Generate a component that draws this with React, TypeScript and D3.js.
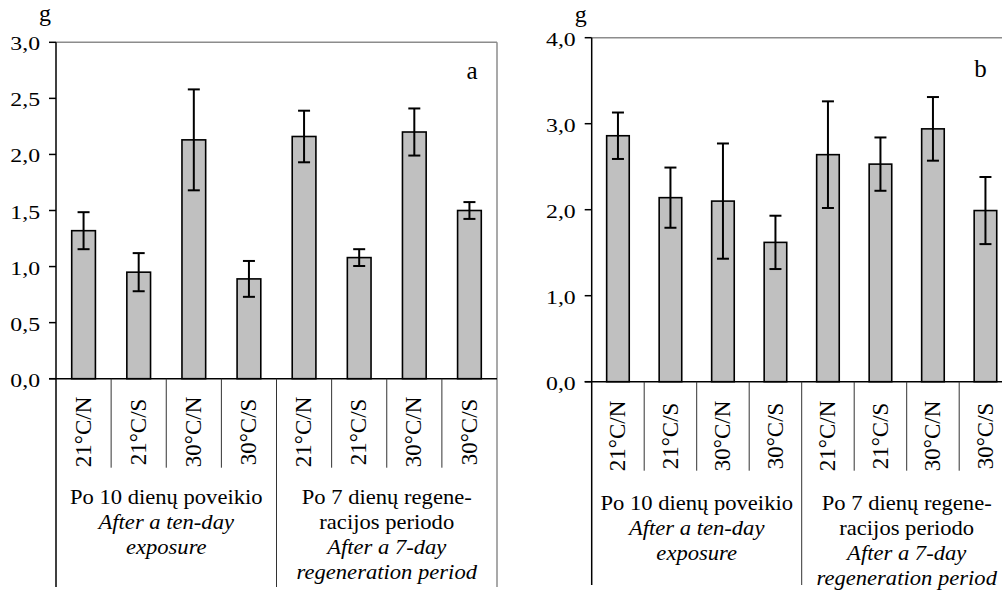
import React from 'react';
import * as d3 from 'd3';

// categories and values
const categories = ['21°C/N', '21°C/S', '30°C/N', '30°C/S', '21°C/N', '21°C/S', '30°C/N', '30°C/S'];
const valuesA = [1.32, 0.95, 2.13, 0.89, 2.16, 1.08, 2.2, 1.5];
const errorsA = [0.165, 0.17, 0.45, 0.16, 0.23, 0.075, 0.21, 0.075];
const valuesB = [2.86, 2.14, 2.1, 1.62, 2.64, 2.53, 2.94, 1.99];
const errorsB = [0.27, 0.35, 0.67, 0.31, 0.62, 0.31, 0.37, 0.39];
const ticksA = [0, 0.5, 1, 1.5, 2, 2.5, 3];
const ticksB = [0, 1, 2, 3, 4];
const group1 = [
    { text: 'Po 10 dienų poveikio', italic: false },
    { text: 'After a ten-day', italic: true },
    { text: 'exposure', italic: true },
];
const group2 = [
    { text: 'Po 7 dienų regene-', italic: false },
    { text: 'racijos periodo', italic: false },
    { text: 'After a 7-day', italic: true },
    { text: 'regeneration period', italic: true },
];

const FONT = 'Liberation Serif, serif';
const fmt = (v: number) => v.toFixed(1).replace('.', ',');

type PanelProps = {
    values: number[];
    errors: number[];
    ticks: number[];
    yMax: number;
    left: number;
    right: number;
    top: number;
    zero: number;
    bottom: number;
    letter: string;
    letterX: number;
    letterY: number;
    unitY: number;
    textY: number;
    labelMid: number;
};

const Panel = (p: PanelProps) => {
    const x = d3.scaleBand<number>()
        .domain(d3.range(categories.length))
        .range([p.left, p.right]);
    const y = d3.scaleLinear().domain([0, p.yMax]).range([p.zero, p.top]);
    const step = x.step();
    const barW = step * 0.43;
    const cx = (i: number) => (x(i) as number) + step / 2;
    const sepEnd = p.zero + 89;
    const mid1 = (p.left + (x(4) as number)) / 2;
    const mid2 = ((x(4) as number) + p.right) / 2;

    const groupText = (lines: { text: string; italic: boolean }[], mx: number) =>
        lines.map((l, i) => (
            <g key={i} transform={`translate(${mx},${p.textY + i * 25}) scale(1.13,1)`}>
                <text textAnchor="middle" fontSize={20} fontStyle={l.italic ? 'italic' : 'normal'}>{l.text}</text>
            </g>
        ));

    return (
        <g style={{ fontFamily: FONT }} fill="#000">
            {/* frame */}
            <line x1={p.left} x2={p.right} y1={p.top} y2={p.top} stroke="#8c8c8c" strokeWidth={1.5} />
            <line x1={p.right} x2={p.right} y1={p.top} y2={p.bottom} stroke="#8c8c8c" strokeWidth={1.5} />
            {/* bars */}
            {p.values.map((v, i) => (
                <rect key={i} x={cx(i) - barW / 2} y={y(v)} width={barW} height={p.zero - y(v)}
                    fill="#c0c0c0" stroke="#000" strokeWidth={1.6} />
            ))}
            {/* error bars */}
            {p.values.map((v, i) => (
                <g key={i} stroke="#000" strokeWidth={2}>
                    <line x1={cx(i)} x2={cx(i)} y1={y(v + p.errors[i])} y2={y(v - p.errors[i])} />
                    <line x1={cx(i) - 6} x2={cx(i) + 6} y1={y(v + p.errors[i])} y2={y(v + p.errors[i])} />
                    <line x1={cx(i) - 6} x2={cx(i) + 6} y1={y(v - p.errors[i])} y2={y(v - p.errors[i])} />
                </g>
            ))}
            {/* y axis */}
            <line x1={p.left} x2={p.left} y1={p.top} y2={p.bottom} stroke="#000" strokeWidth={1.5} />
            {p.ticks.map((t) => (
                <g key={t}>
                    <line x1={p.left - 7} x2={p.left} y1={y(t)} y2={y(t)} stroke="#000" strokeWidth={1.5} />
                    <g transform={`translate(${p.left - 16},${y(t) + 8}) scale(1.25,1)`}>
                        <text textAnchor="end" fontSize={19}>{fmt(t)}</text>
                    </g>
                </g>
            ))}
            <text x={p.left - 11} y={p.unitY} textAnchor="middle" fontSize={24}>g</text>
            {/* x axis */}
            <line x1={p.left - 7} x2={p.right} y1={p.zero} y2={p.zero} stroke="#000" strokeWidth={1.5} />
            {d3.range(1, categories.length).map((i) => (
                <line key={i} x1={x(i) as number} x2={x(i) as number} y1={p.zero}
                    y2={i === 4 ? p.bottom : sepEnd} stroke="#333" strokeWidth={1} />
            ))}
            {categories.map((c, i) => (
                <text key={i} transform={`translate(${cx(i) - 1},${p.labelMid}) rotate(-90)`}
                    textAnchor="middle" dy="0.35em" fontSize={23}>{c}</text>
            ))}
            {groupText(group1, mid1)}
            {groupText(group2, mid2)}
            <text x={p.letterX} y={p.letterY} textAnchor="middle" fontSize={25}>{p.letter}</text>
        </g>
    );
};

const App = () => (
    <svg width={1002} height={591} style={{ position: 'absolute', left: 0, top: 0, background: '#fff' }}>
        <rect width={1002} height={591} fill="#fff" />
        <Panel values={valuesA} errors={errorsA} ticks={ticksA} yMax={3}
            left={56} right={497} top={42.3} zero={378.7} bottom={587}
            letter="a" letterX={472} letterY={79} unitY={21} textY={504} labelMid={432} />
        <Panel values={valuesB} errors={errorsB} ticks={ticksB} yMax={4}
            left={591.7} right={1011.7} top={37.7} zero={381.7} bottom={585}
            letter="b" letterX={980.5} letterY={77} unitY={22} textY={509.5} labelMid={436} />
    </svg>
);

export default App;
